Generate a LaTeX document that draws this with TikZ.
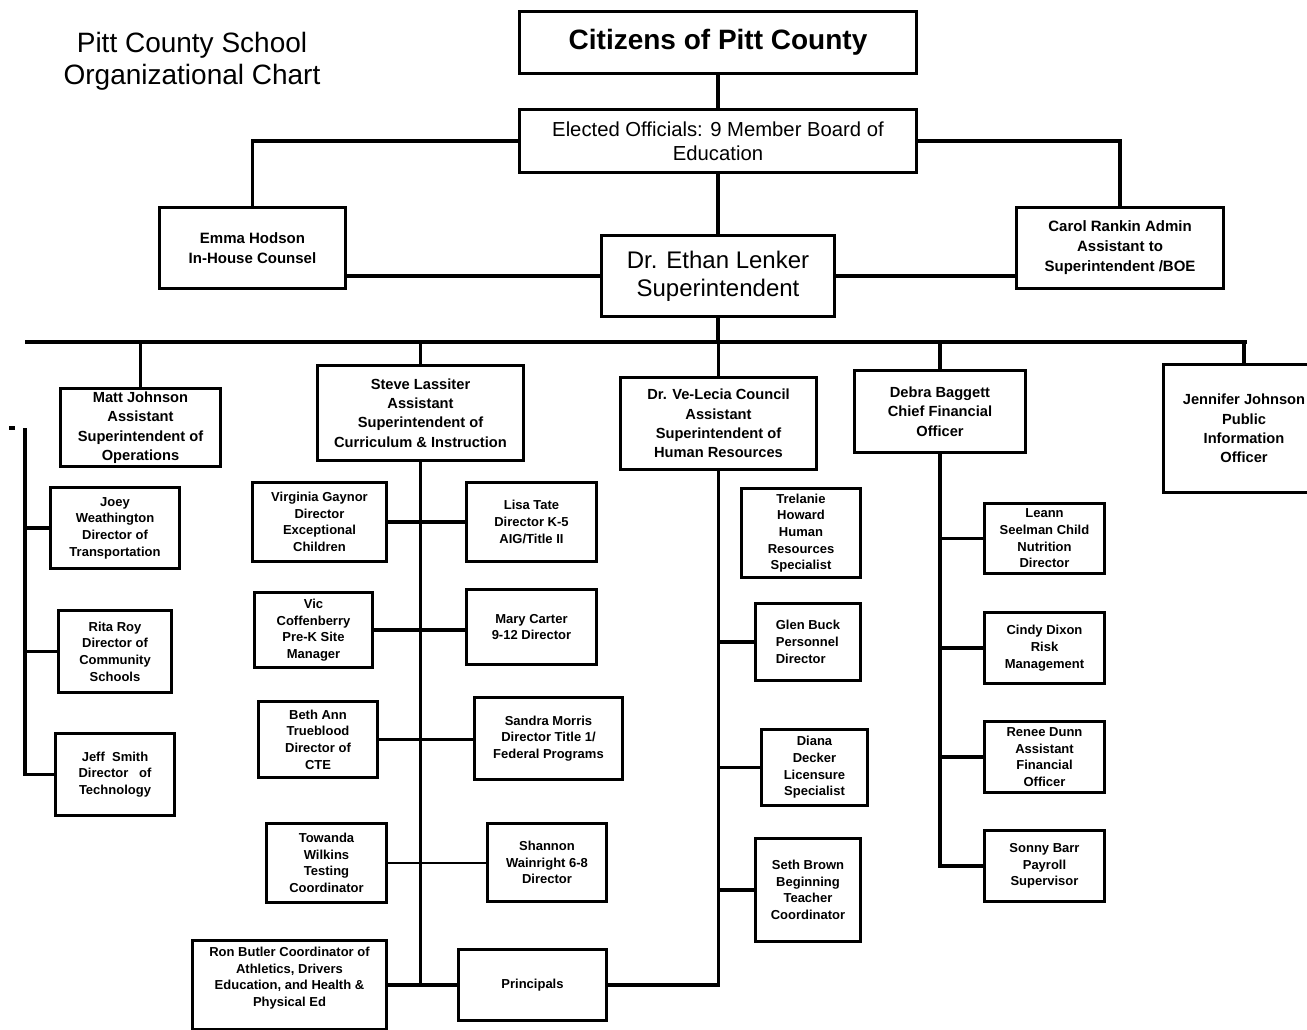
\documentclass[tikz,border=0pt]{standalone}
\usepackage{fontspec}
\setmainfont{Liberation Sans}
\usetikzlibrary{calc}
\newcommand\ocbox[7][]{%
 \pgfmathsetmacro\ocX{(#3+#5)/2}%
 \pgfmathsetmacro\ocY{(#4+#6)/2}%
 \pgfmathsetmacro\ocW{(#5-#3-3)*0.75}%
 \pgfmathsetmacro\ocH{(#6-#4-3)*0.75}%
 \node[ocb,minimum width=\ocW pt,minimum height=\ocH pt,#1] (#2) at (\ocX,\ocY) {#7};}
\begin{document}
\begin{tikzpicture}[x=0.75pt,y=-0.75pt,
 ocb/.style={draw, line width=2.2pt, inner sep=0pt, align=center, font=\bfseries\fontsize{9.75}{12.5}\selectfont},
 lvtwo/.style={font=\bfseries\fontsize{11}{14.6}\selectfont},
 side/.style={font=\bfseries\fontsize{11.25}{15}\selectfont},
 conn/.style={line width=2.4pt},
 thinconn/.style={line width=1.3pt}]
\fill[white] (0,0) rectangle (1307,1029);
\useasboundingbox (0,0) rectangle (1307,1029);

\node[align=center, font=\fontsize{21}{24}\selectfont] (title) at (192,61) {Pitt County School\\Organizational Chart};

% top levels
\ocbox[font=\bfseries\fontsize{21}{24}\selectfont]{citizens}{518}{10}{918}{75}{Citizens of Pitt County}
\ocbox[font=\fontsize{15.2}{18}\selectfont]{elected}{518}{108}{918}{174}{Elected Officials: 9 Member Board of\\Education}
\ocbox[side]{emma}{158}{206}{347}{290}{Emma Hodson\\In-House Counsel}
\ocbox[font=\fontsize{18}{21}\selectfont]{super}{600}{234}{836}{318}{Dr. Ethan Lenker\\Superintendent}
\ocbox[side]{carol}{1015}{206}{1225}{290}{Carol Rankin Admin\\Assistant to\\Superintendent /BOE}

% level 2
\ocbox[lvtwo]{matt}{59}{387}{222}{468}{Matt Johnson\\Assistant\\Superintendent of\\Operations}
\ocbox[lvtwo]{steve}{316}{364}{525}{462}{Steve Lassiter\\Assistant\\Superintendent of\\Curriculum \& Instruction}
\ocbox[lvtwo]{velecia}{619}{376}{818}{471}{Dr. Ve-Lecia Council\\Assistant\\Superintendent of\\Human Resources}
\ocbox[lvtwo]{debra}{853}{369}{1027}{454}{Debra Baggett\\Chief Financial\\Officer}
\ocbox[lvtwo]{jennifer}{1162}{363}{1326}{494}{Jennifer Johnson\\Public\\Information\\Officer}

% level 3 - operations
\ocbox{joey}{49}{486}{181}{570}{Joey\\Weathington\\Director of\\Transportation}
\ocbox{rita}{57}{609}{173}{694}{Rita Roy\\Director of\\Community\\Schools}
\ocbox{jeff}{54}{732}{176}{817}{Jeff\ \ Smith\\Director\ \ \ of\\Technology}

% curriculum
\ocbox{virginia}{251}{481}{388}{563}{Virginia Gaynor\\Director\\Exceptional\\Children}
\ocbox{lisa}{465}{481}{598}{563}{Lisa Tate\\Director K-5\\AIG/Title II}
\ocbox{vic}{253}{591}{374}{669}{Vic\\Coffenberry\\Pre-K Site\\Manager}
\ocbox{mary}{465}{588}{598}{666}{Mary Carter\\9-12 Director}
\ocbox{beth}{257}{700}{379}{779}{Beth Ann\\Trueblood\\Director of\\CTE}
\ocbox{sandra}{473}{696}{624}{781}{Sandra Morris\\Director Title 1/\\Federal Programs}
\ocbox{towanda}{265}{822}{388}{904}{Towanda\\Wilkins\\Testing\\Coordinator}
\ocbox{shannon}{486}{822}{608}{903}{Shannon\\Wainright 6-8\\Director}
\ocbox{ron}{191}{939}{388}{1031}{Ron Butler Coordinator of\\Athletics, Drivers\\Education, and Health \&\\Physical Ed\\\mbox{}}
\ocbox{principals}{457}{948}{608}{1022}{Principals}

% human resources
\ocbox{trelanie}{740}{487}{862}{579}{Trelanie\\Howard\\Human\\Resources\\Specialist}
\ocbox[align=left]{glen}{754}{602}{862}{682}{Glen Buck\\Personnel\\Director}
\ocbox{diana}{760}{728}{869}{807}{Diana\\Decker\\Licensure\\Specialist}
\ocbox{seth}{754}{837}{862}{943}{Seth Brown\\Beginning\\Teacher\\Coordinator}

% finance
\ocbox{leann}{983}{502}{1106}{575}{Leann\\Seelman Child\\Nutrition\\Director}
\ocbox{cindy}{983}{611}{1106}{685}{Cindy Dixon\\Risk\\Management}
\ocbox{renee}{983}{720}{1106}{794}{Renee Dunn\\Assistant\\Financial\\Officer}
\ocbox{sonny}{983}{829}{1106}{903}{Sonny Barr\\Payroll\\Supervisor}

% connectors top
\draw[conn] (citizens.south) -- (elected.north);
\draw[conn] (elected.south) -- (super.north);
\draw[conn] (elected.west) -| (emma.north);
\draw[conn] (elected.east) -| (carol.north);
\draw[conn] (super.west) -- (super.west -| emma.east);
\draw[conn] (super.east) -- (super.east -| carol.west);

% bus
\coordinate (busL) at (25,342);
\coordinate (busR) at (1247,342);
\draw[line width=2.6pt] (busL) -- (busR);
\draw[conn] (super.south) -- (super.south |- busL);
\draw[conn] (matt.north) -- (matt.north |- busL);
\draw[conn] (steve.north) -- (steve.north |- busL);
\draw[conn] (velecia.north) -- (velecia.north |- busL);
\draw[conn] (debra.north) -- (debra.north |- busL);
\draw[conn] (jennifer.north) -- (jennifer.north |- busL);

% operations trunk
\coordinate (mtop) at (25,428);
\coordinate (dashA) at (9,428);
\coordinate (dashB) at (15,428);
\draw[conn] (dashA) -- (dashB);
\draw[conn] (mtop) |- (jeff.west);
\draw[conn] (joey.west) -- (joey.west -| mtop);
\draw[conn] (rita.west) -- (rita.west -| mtop);

% curriculum trunk
\draw[conn] (steve.south) -- (steve.south |- ron.east);
\draw[conn] (virginia.east) -- (lisa.west);
\draw[conn] (vic.east) -- (vic.east -| mary.west);
\draw[conn] (beth.east) -- (beth.east -| sandra.west);
\draw[thinconn] (towanda.east) -- (towanda.east -| shannon.west);
\draw[conn] (ron.east) -- (principals.west);

% HR trunk
\draw[conn] (principals.east) -| (velecia.south);
\draw[conn] (glen.west) -- (glen.west -| velecia.south);
\draw[conn] (diana.west) -- (diana.west -| velecia.south);
\draw[conn] (seth.west) -- (seth.west -| velecia.south);

% finance trunk
\draw[conn] (debra.south) |- (sonny.west);
\draw[conn] (leann.west) -- (leann.west -| debra.south);
\draw[conn] (cindy.west) -- (cindy.west -| debra.south);
\draw[conn] (renee.west) -- (renee.west -| debra.south);
\end{tikzpicture}
\end{document}
